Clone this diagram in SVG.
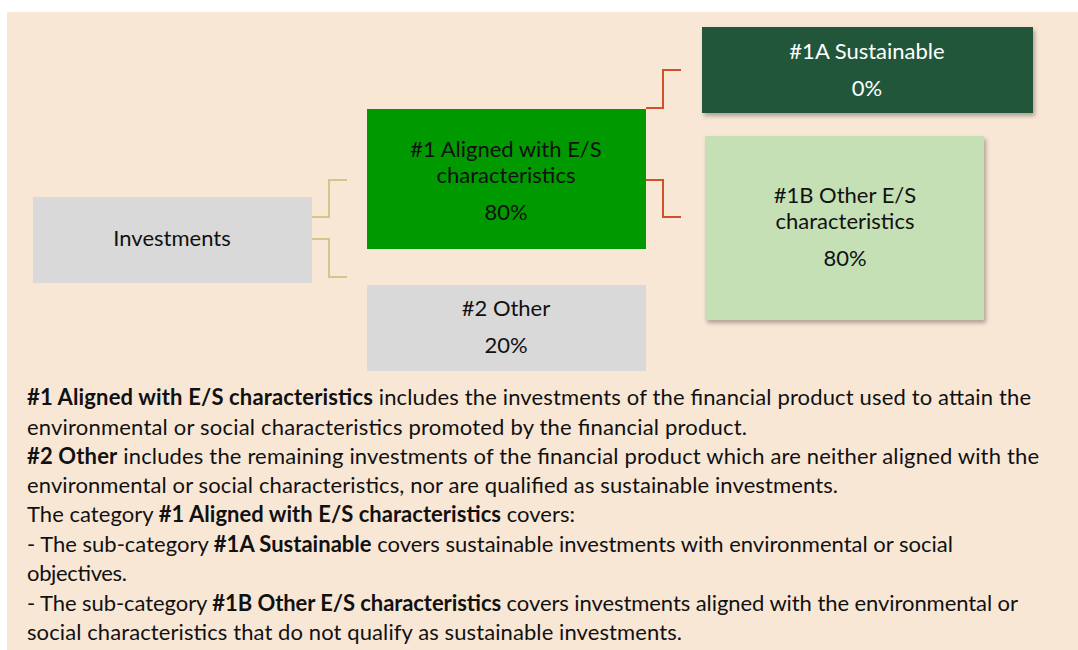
<svg xmlns="http://www.w3.org/2000/svg" width="1078" height="650" viewBox="0 0 1078 650">
<defs>
<style>
text{font-family:"Lato","Open Sans","Liberation Sans",sans-serif;font-size:22px;fill:#111}
.c{text-anchor:middle}
.w{fill:#fff}
.b{font-weight:bold}
.tan{fill:none;stroke:#D4C48E;stroke-width:2}
.red{fill:none;stroke:#D0502E;stroke-width:2}
</style>
<filter id="sh" x="-5%" y="-5%" width="112%" height="115%">
<feDropShadow dx="2" dy="3" stdDeviation="2" flood-color="#000" flood-opacity="0.3"/>
</filter>
</defs>
<rect width="1078" height="650" fill="#fff"/>
<rect x="7" y="12" width="1071" height="638" fill="#F9E7D6"/>
<g id="connectors">
<polyline class="tan" points="312,217 329,217 329,180 347,180"/>
<polyline class="tan" points="312,239 329,239 329,277 347,277"/>
<polyline class="red" points="646,108 663,108 663,70 681,70"/>
<polyline class="red" points="646,180 663,180 663,217 681,217"/>
</g>
<g id="investments">
<rect x="33" y="197" width="279" height="86" fill="#D9D9D9"/>
<text class="c" x="172" y="246">Investments</text>
</g>
<g id="aligned">
<rect x="367" y="109" width="279" height="140" fill="#009900"/>
<text class="c" x="506" y="157">#1 Aligned with E/S</text>
<text class="c" x="506" y="183">characteristics</text>
<text class="c" x="506" y="220">80%</text>
</g>
<g id="other">
<rect x="367" y="285" width="279" height="86" fill="#D9D9D9"/>
<text class="c" x="506" y="316">#2 Other</text>
<text class="c" x="506" y="353">20%</text>
</g>
<g id="sustainable">
<rect x="702" y="27" width="331" height="86" fill="#24573A" filter="url(#sh)"/>
<text class="c w" x="867" y="59">#1A Sustainable</text>
<text class="c w" x="867" y="96">0%</text>
</g>
<g id="otheres">
<rect x="705" y="136" width="279" height="184" fill="#C5E0B4" filter="url(#sh)"/>
<text class="c" x="845" y="203">#1B Other E/S</text>
<text class="c" x="845" y="229">characteristics</text>
<text class="c" x="845" y="266">80%</text>
</g>
<g id="legend">
<text x="27" y="405" textLength="1004" lengthAdjust="spacing"><tspan class="b">#1 Aligned with E/S characteristics</tspan> includes the investments of the financial product used to attain the</text>
<text x="27" y="435" textLength="720" lengthAdjust="spacing">environmental or social characteristics promoted by the financial product.</text>
<text x="27" y="464" textLength="1012" lengthAdjust="spacing"><tspan class="b">#2 Other</tspan> includes the remaining investments of the financial product which are neither aligned with the</text>
<text x="27" y="493" textLength="811" lengthAdjust="spacing">environmental or social characteristics, nor are qualified as sustainable investments.</text>
<text x="27" y="522" textLength="548" lengthAdjust="spacing">The category <tspan class="b">#1 Aligned with E/S characteristics</tspan> covers:</text>
<text x="27" y="552" textLength="926" lengthAdjust="spacing">- The sub-category <tspan class="b">#1A Sustainable</tspan> covers sustainable investments with environmental or social</text>
<text x="27" y="581" textLength="100" lengthAdjust="spacing">objectives.</text>
<text x="27" y="611" textLength="991" lengthAdjust="spacing">- The sub-category <tspan class="b">#1B Other E/S characteristics</tspan> covers investments aligned with the environmental or</text>
<text x="27" y="640" textLength="655" lengthAdjust="spacing">social characteristics that do not qualify as sustainable investments.</text>
</g>
</svg>
